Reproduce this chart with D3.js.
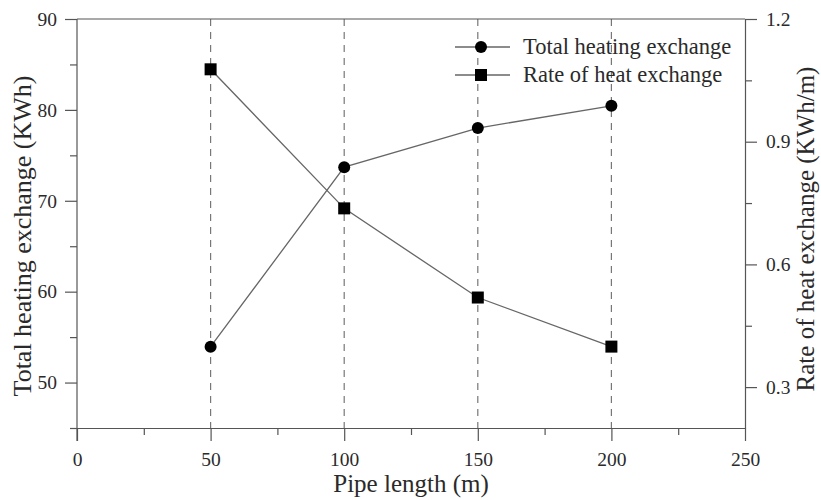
<!DOCTYPE html>
<html><head><meta charset="utf-8">
<script src="https://cdn.jsdelivr.net/npm/d3@7"></script>
<style>body{margin:0;background:#fff}svg{display:block}</style>
</head><body>
<svg id="c" width="821" height="500"></svg>
<script>
const lengths = [50, 100, 150, 200];
const totalHeat = [53.95, 73.7, 78.0, 80.45];
const heatRate = [1.077, 0.737, 0.519, 0.399];
const xTicks = [0, 50, 100, 150, 200, 250];
const yLeftTicks = [50, 60, 70, 80, 90];
const yRightTicks = [0.3, 0.6, 0.9, 1.2];
const seriesNames = ["Total heating exchange", "Rate of heat exchange"];

const svg = d3.select("#c");
const L = 77, R = 745, T = 19, B = 428;
const x = d3.scaleLinear().domain([0, 250]).range([L, R]);
const yL = d3.scaleLinear().domain([45, 90]).range([B, T]);
const yR = d3.scaleLinear().domain([0.2, 1.2]).range([B, T]);
const font = '"Liberation Serif"';
const axCol = "#555";
const txtCol = "#2a2a2a";

// dashed verticals
svg.append("g").selectAll("line").data(lengths).join("line")
  .attr("x1", d => x(d)).attr("x2", d => x(d)).attr("y1", T).attr("y2", B)
  .attr("stroke", "#777").attr("stroke-width", 1.2).attr("stroke-dasharray", "7,6");

// top frame
svg.append("line").attr("x1", L).attr("x2", R).attr("y1", T).attr("y2", T)
  .attr("stroke", axCol).attr("stroke-width", 1.2);

function styleAxis(g) {
  g.attr("font-family", null).attr("font-size", null);
  g.selectAll("path,line").attr("stroke", axCol).attr("stroke-width", 1.2);
  g.selectAll("text").style("font-family", font).style("font-size", "19.5px").attr("fill", txtCol);
}

// minor ticks
const gx = svg.append("g").attr("transform", `translate(0,${B})`);
gx.call(d3.axisBottom(x).tickValues(d3.range(25, 250, 50)).tickSize(7).tickFormat("").tickSizeOuter(0));
gx.call(g => g.select(".domain").remove());
styleAxis(gx);
const gx2 = svg.append("g").attr("transform", `translate(0,${B})`);
gx2.call(d3.axisBottom(x).tickValues(xTicks).tickSize(13).tickPadding(11).tickSizeOuter(0).tickFormat(d3.format("d")));
styleAxis(gx2);

const gl = svg.append("g").attr("transform", `translate(${L},0)`);
gl.call(d3.axisLeft(yL).tickValues([45, 55, 65, 75, 85]).tickSize(7).tickFormat("").tickSizeOuter(0));
gl.call(g => g.select(".domain").remove());
styleAxis(gl);
const gl2 = svg.append("g").attr("transform", `translate(${L},0)`);
gl2.call(d3.axisLeft(yL).tickValues(yLeftTicks).tickSize(12).tickPadding(8).tickSizeOuter(0));
styleAxis(gl2);
gl2.select(".domain").attr("d", `M0,${T}V${B + 13}`);

const gr = svg.append("g").attr("transform", `translate(${R},0)`);
gr.call(d3.axisRight(yR).tickValues([0.45, 0.75, 1.05]).tickSize(7).tickFormat("").tickSizeOuter(0));
gr.call(g => g.select(".domain").remove());
styleAxis(gr);
const gr2 = svg.append("g").attr("transform", `translate(${R},0)`);
gr2.call(d3.axisRight(yR).tickValues(yRightTicks).tickSize(12).tickPadding(9).tickSizeOuter(0).tickFormat(d3.format(".1f")));
styleAxis(gr2);

// lines
const lineCol = "#666";
const l1 = d3.line().x((d, i) => x(lengths[i])).y(d => yL(d));
const l2 = d3.line().x((d, i) => x(lengths[i])).y(d => yR(d));
svg.append("path").attr("d", l1(totalHeat)).attr("fill", "none").attr("stroke", lineCol).attr("stroke-width", 1.3);
svg.append("path").attr("d", l2(heatRate)).attr("fill", "none").attr("stroke", lineCol).attr("stroke-width", 1.3);
svg.append("g").selectAll("circle").data(totalHeat).join("circle")
  .attr("cx", (d, i) => x(lengths[i])).attr("cy", d => yL(d)).attr("r", 6).attr("fill", "#000");
svg.append("g").selectAll("rect").data(heatRate).join("rect")
  .attr("x", (d, i) => x(lengths[i]) - 6).attr("y", d => yR(d) - 6).attr("width", 12).attr("height", 12).attr("fill", "#000");

// legend
const leg = svg.append("g");
[0, 1].forEach(i => {
  const yy = 47 + i * 28;
  leg.append("line").attr("x1", 455).attr("x2", 510).attr("y1", yy).attr("y2", yy).attr("stroke", lineCol).attr("stroke-width", 1.3);
  if (i === 0) leg.append("circle").attr("cx", 481).attr("cy", yy).attr("r", 6).attr("fill", "#000");
  else leg.append("rect").attr("x", 475).attr("y", yy - 6).attr("width", 12).attr("height", 12).attr("fill", "#000");
  leg.append("text").attr("x", 523).attr("y", yy + 7).style("font-family", font).style("font-size", "22.5px").attr("fill", txtCol).text(seriesNames[i]);
});

// titles
svg.append("text").attr("x", (L + R) / 2).attr("y", 492).attr("text-anchor", "middle")
  .style("font-family", font).style("font-size", "25px").attr("fill", txtCol).text("Pipe length (m)");
svg.append("text").attr("transform", `translate(31,236) rotate(-90)`).attr("text-anchor", "middle")
  .style("font-family", font).style("font-size", "26px").attr("fill", txtCol).text("Total heating exchange (KWh)");
svg.append("text").attr("transform", `translate(814,229) rotate(-90)`).attr("text-anchor", "middle")
  .style("font-family", font).style("font-size", "25px").attr("fill", txtCol).text("Rate of heat exchange (KWh/m)");
</script>
</body></html>
